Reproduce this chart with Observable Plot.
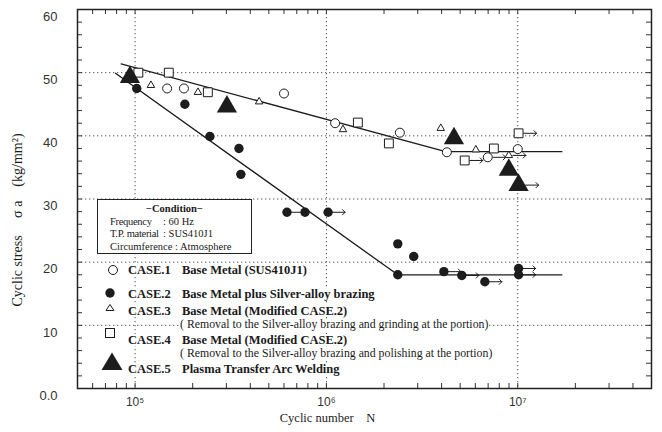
<!DOCTYPE html>
<html><head><meta charset="utf-8">
<script src="https://cdn.jsdelivr.net/npm/d3@7"></script>
<script src="https://cdn.jsdelivr.net/npm/@observablehq/plot@0.6"></script>
<style>
body{margin:0;background:#fff;}
#wrap{position:relative;width:662px;height:432px;overflow:hidden;background:#fff;}
.ov{position:absolute;font-family:"Liberation Serif","Times New Roman",serif;color:#1a1a1a;white-space:nowrap;line-height:1;}
.bg{background:#fff;}
.cs{font-weight:bold;font-size:12.5px;}
.note{font-size:11.8px;}
#cond{position:absolute;left:97px;top:199px;width:155px;height:55px;border:1.5px solid #222;background:#fff;white-space:nowrap;
  font-family:"Liberation Serif","Times New Roman",serif;font-size:10.5px;color:#1a1a1a;line-height:12.5px;box-sizing:border-box;padding:3px 0 0 12px;}
#cond .t{text-align:center;font-weight:bold;margin-left:-12px;}
#cond .l{display:inline-block;width:53px;letter-spacing:-0.3px;}
#ytitle{position:absolute;left:18px;top:220px;transform:translate(-50%,-50%) rotate(-90deg);font-size:14px;}
svg.icon{position:absolute;overflow:visible;}
</style></head><body><div id="wrap"></div>
<script>
// ---- data ----
const case1N = [1.47e5, 1.8e5, 6.0e5, 1.11e6, 2.42e6, 4.26e6, 6.97e6, 1.0e7];
const case1S = [47.5, 47.5, 46.7, 42.0, 40.5, 37.4, 36.6, 37.9];
const case1Run = [0, 0, 0, 0, 0, 0, 1, 0];

const case2N = [1.02e5, 1.82e5, 2.46e5, 3.49e5, 3.57e5, 6.22e5, 7.73e5, 1.02e6, 2.36e6, 2.86e6, 2.36e6, 4.11e6, 5.1e6, 6.73e6, 1.01e7, 1.01e7];
const case2S = [47.5, 45.0, 39.9, 38.0, 33.9, 27.9, 27.9, 27.9, 22.9, 20.9, 18.0, 18.5, 17.9, 16.9, 19.0, 18.0];
const case2Run = [0, 0, 0, 0, 0, 1, 0, 1, 0, 0, 0, 1, 1, 1, 1, 1];

const case3N = [1.21e5, 2.13e5, 4.45e5, 1.22e6, 3.96e6, 6.04e6, 8.98e6];
const case3S = [48.0, 46.9, 45.4, 41.0, 41.2, 37.8, 36.9];
const case3Run = [0, 0, 0, 0, 0, 0, 1];

const case4N = [1.04e5, 1.5e5, 2.4e5, 1.46e6, 2.12e6, 5.28e6, 7.5e6, 1.01e7];
const case4S = [50.0, 50.0, 46.9, 42.1, 38.8, 36.1, 38.0, 40.4];
const case4Run = [0, 0, 0, 0, 0, 1, 0, 1];

const case5N = [9.4e4, 3.02e5, 4.64e6, 8.98e6, 1.01e7];
const case5S = [49.3, 44.6, 39.6, 34.6, 32.2];
const case5Run = [0, 0, 0, 0, 1];

const upperLineN = [8.45e4, 4.2e6, 1.7e7];
const upperLineS = [51.4, 37.5, 37.5];
const lowerLineN = [7.9e4, 2.36e6, 1.7e7];
const lowerLineS = [49.9, 18.0, 18.0];

const xDomain = [5e4, 5e7];
const yDomain = [0, 60];
const xTicks = [1e5, 1e6, 1e7];
const xTickLabels = ["10\u2075", "10\u2076", "10\u2077"];
const yTicks = [0, 10, 20, 30, 40, 50, 60];
const yTickLabels = ["0.0", "10", "20", "30", "40", "50", "60"];
const gridX = [1e5, 1e6, 1e7];
const gridY = [10, 20, 30, 40, 50];

const xTitle = "Cyclic number\u00a0\u00a0\u00a0 N";
const yTitle = "Cyclic stress\u00a0\u00a0\u00a0\u00a0 \u03c3 a\u00a0\u00a0\u00a0 (kg/mm\u00b2)";

const legendCases = ["CASE.1", "CASE.2", "CASE.3", "CASE.4", "CASE.5"];
const legendDescs = ["Base Metal (SUS410J1)", "Base Metal plus Silver-alloy brazing", "Base Metal (Modified CASE.2)", "Base Metal (Modified CASE.2)", "Plasma Transfer Arc Welding"];
const legendNotes = ["( Removal to the Silver-alloy brazing and grinding at the portion)", "( Removal to the Silver-alloy brazing and polishing at the portion)"];
const condTitle = "\u2212Condition\u2212";
const condLabels = ["Frequency", "T.P. material"];
const condValues = [": 60 Hz", ": SUS410J1"];
const condLast = "Circumference : Atmosphere";

// ---- build ----
const W = 662, H = 432;
const mt = 9, mr = 11, mb = 44, ml = 77;
const frameW = W - ml - mr, frameH = H - mt - mb;
const pts = (N, S, R) => N.map((n, i) => ({n, s: S[i], run: !!R[i]}));
const c1 = pts(case1N, case1S, case1Run);
const c2 = pts(case2N, case2S, case2Run);
const c3 = pts(case3N, case3S, case3Run);
const c4 = pts(case4N, case4S, case4Run);
const c5 = pts(case5N, case5S, case5Run);
const upper = upperLineN.map((n, i) => ({n, s: upperLineS[i]}));
const lower = lowerLineN.map((n, i) => ({n, s: lowerLineS[i]}));
const xMinor = d3.scaleLog().domain(xDomain).ticks();
const yMinor = d3.range(0, 61, 2);
const ink = "#1c1c1c";
const grid = {stroke: "#555", strokeWidth: 1, strokeDasharray: "1.3,2.7"};
const arrowOpts = (dx) => ({x: "n", y: "s", rotate: 90, length: 13, anchor: "start", dx, stroke: ink, strokeWidth: 1});

const chart = Plot.plot({
  width: W, height: H,
  marginTop: mt, marginRight: mr, marginBottom: mb, marginLeft: ml,
  x: {type: "log", domain: xDomain},
  y: {domain: yDomain},
  style: {fontFamily: "'Liberation Sans', Arial, sans-serif", fontSize: "13px", color: "#333", background: "#fff"},
  marks: [
    Plot.ruleY(gridY, grid),
    Plot.ruleX(gridX, grid),
    Plot.tickY(yMinor, {y: d => d, insetRight: frameW - 5, stroke: "#333"}),
    Plot.tickY(yMinor, {y: d => d, insetLeft: frameW - 5, stroke: "#333"}),
    Plot.tickX(xMinor, {x: d => d, insetTop: frameH - 5, stroke: "#333"}),
    Plot.tickX(xMinor, {x: d => d, insetBottom: frameH - 5, stroke: "#333"}),
    Plot.line(upper, {x: "n", y: "s", stroke: ink, strokeWidth: 1.3}),
    Plot.line(lower, {x: "n", y: "s", stroke: ink, strokeWidth: 1.3}),
    Plot.vector(c1.filter(d => d.run), arrowOpts(5)),
    Plot.vector(c2.filter(d => d.run), arrowOpts(4)),
    Plot.vector(c3.filter(d => d.run), arrowOpts(4)),
    Plot.vector(c4.filter(d => d.run), arrowOpts(5)),
    Plot.vector(c5.filter(d => d.run), arrowOpts(7)),
    Plot.dot(c1, {x: "n", y: "s", r: 4.5, stroke: ink, fill: "#fff", strokeWidth: 1}),
    Plot.dot(c3, {x: "n", y: "s", r: 2.8, symbol: "triangle", stroke: ink, fill: "#fff", strokeWidth: 1}),
    Plot.dot(c4, {x: "n", y: "s", r: 5, symbol: "square", stroke: ink, fill: "#fff", strokeWidth: 1}),
    Plot.dot(c2, {x: "n", y: "s", r: 4.7, fill: ink, stroke: "none"}),
    Plot.dot(c5, {x: "n", y: "s", r: 7.5, symbol: "triangle", fill: ink, stroke: "none"}),
    Plot.frame({stroke: "#222", strokeWidth: 1.5}),
    Plot.axisX({ticks: xTicks, tickSize: 0, tickPadding: 9, fontSize: 12, label: null,
      tickFormat: d => xTickLabels[xTicks.indexOf(d)]}),
    Plot.axisY({ticks: yTicks, tickSize: 0, tickPadding: 20, dy: 7, fontSize: 13, label: null,
      tickFormat: d => yTickLabels[yTicks.indexOf(d)]}),
    Plot.text([xTitle], {text: d => d, frameAnchor: "bottom", dx: -37, dy: 33, fontFamily: "'Liberation Serif', serif", fontSize: 12.5, fill: ink})
  ]
});

const wrap = document.getElementById("wrap");
wrap.appendChild(chart);

// y-axis title
const yt = document.createElement("div");
yt.id = "ytitle";
yt.className = "ov";
yt.textContent = yTitle;
wrap.appendChild(yt);

// condition box
const cond = document.createElement("div");
cond.id = "cond";
cond.innerHTML = `<div class="t">${condTitle}</div>` +
  condLabels.map((l, i) => `<div><span class="l">${l}</span>${condValues[i]}</div>`).join("") +
  `<div>${condLast}</div>`;
wrap.appendChild(cond);

// legend
function addText(txt, cls, left, cy, fs) {
  const s = document.createElement("span");
  s.className = "ov bg " + cls;
  s.textContent = txt;
  s.style.left = left + "px";
  s.style.top = (cy - fs / 2 - 1) + "px";
  wrap.appendChild(s);
}
function addIcon(cx, cy, inner) {
  const ns = "http://www.w3.org/2000/svg";
  const sv = document.createElementNS(ns, "svg");
  sv.setAttribute("class", "icon");
  sv.setAttribute("width", 24); sv.setAttribute("height", 24);
  sv.style.left = (cx - 12) + "px"; sv.style.top = (cy - 12) + "px";
  sv.innerHTML = inner;
  wrap.appendChild(sv);
}
const rowY = [271, 295, 312, 341, 370];
const noteY = [326, 355];
legendCases.forEach((c, i) => {
  addText(c, "cs", 128, rowY[i], 12.5);
  addText(legendDescs[i], "cs", 182, rowY[i], 12.5);
});
legendNotes.forEach((t, i) => addText(t, "note", 180, noteY[i], 11.8));
addIcon(113, 270, `<circle cx="12" cy="12" r="4.5" fill="#fff" stroke="${ink}"/>`);
addIcon(110, 293, `<circle cx="12" cy="12" r="4.7" fill="${ink}"/>`);
addIcon(110, 308, `<path d="M12,8.5L16,14.5L8,14.5Z" fill="#fff" stroke="${ink}"/>`);
addIcon(110, 333, `<rect x="7.5" y="7.5" width="9" height="9" fill="#fff" stroke="${ink}"/>`);
addIcon(112, 362, `<path d="M12,2.5L22.5,20L1.5,20Z" fill="${ink}"/>`);
</script>
</body></html>
